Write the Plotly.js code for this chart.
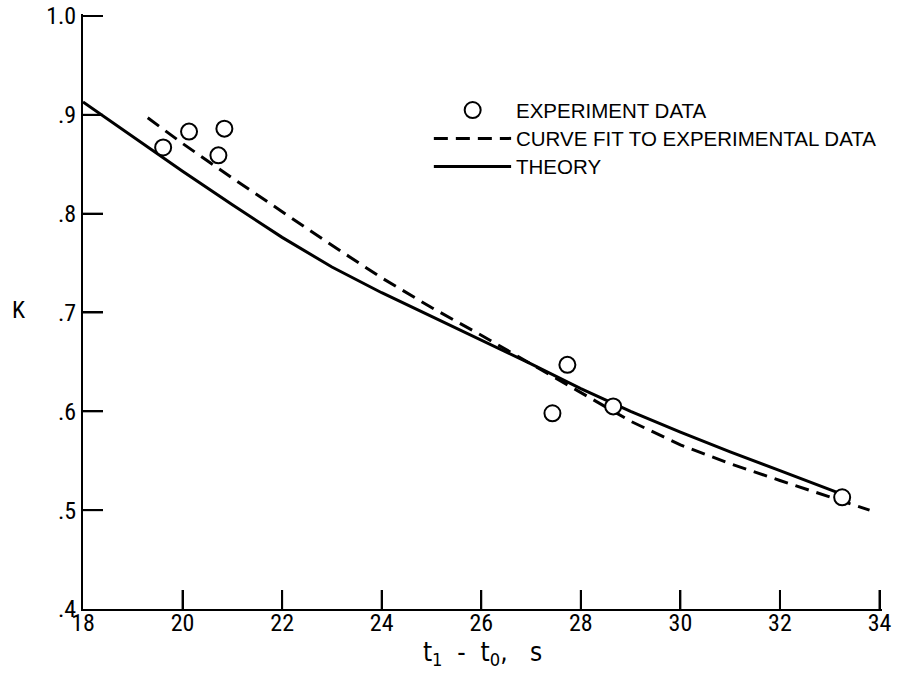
<!DOCTYPE html>
<html>
<head>
<meta charset="utf-8">
<script src="https://cdn.plot.ly/plotly-3.0.1.min.js"></script>
<style>html,body{margin:0;padding:0;background:#fff;}#chart{width:898px;height:674px;}</style>
</head>
<body>
<div id="chart"></div>
<script>
// Experiment data
const expX = [19.61, 20.13, 20.72, 20.84, 27.43, 27.73, 28.65, 33.25];
const expK = [0.867, 0.883, 0.859, 0.886, 0.598, 0.647, 0.605, 0.513];
// Curve fit to experimental data (dashed)
const fitX = [19.3, 20, 21, 22, 23, 24, 25, 26, 27, 28, 29, 30, 31, 32, 33, 33.8];
const fitK = [0.897, 0.871, 0.836, 0.802, 0.768, 0.735, 0.705, 0.677, 0.648, 0.619, 0.590, 0.566, 0.547, 0.530, 0.513, 0.500];
// Theory (solid)
const theoryX = [18, 19, 20, 21, 22, 23, 24, 25, 26, 27, 28, 29, 30, 31, 32, 33, 33.15];
const theoryK = [0.913, 0.878, 0.843, 0.809, 0.776, 0.746, 0.720, 0.696, 0.672, 0.648, 0.623, 0.600, 0.579, 0.559, 0.540, 0.521, 0.518];
// Axis ticks
const xTicks = [18, 20, 22, 24, 26, 28, 30, 32, 34];
const xTickText = ["18", "20", "22", "24", "26", "28", "30", "32", "34"];
const yTicks = [0.4, 0.5, 0.6, 0.7, 0.8, 0.9, 1.0];
const yTickText = [".4", ".5", ".6", ".7", ".8", ".9", "1.0"];
// Legend labels
const legendLabels = ["EXPERIMENT DATA", "CURVE FIT TO EXPERIMENTAL DATA", "THEORY"];

const cond = '"Roboto Condensed", "DejaVu Sans Condensed", sans-serif';
const sans = '"Liberation Sans", Arial, sans-serif';

const xRange = [18, 34.05], yRange = [0.4, 1.002];
const M = {l: 83, r: 16, t: 14, b: 65}, W = 898, H = 674;
const plotW = W - M.l - M.r, plotH = H - M.t - M.b;
// inward tick lengths (px) converted to axis units
const xTickLen = 19 * (yRange[1] - yRange[0]) / plotH;
const yTickLen = 20 * (xRange[1] - xRange[0]) / plotW;

// tick marks drawn through the axes' own scales
const tickX = [], tickY = [];
xTicks.slice(1).forEach(function (v) { tickX.push(v, v, null); tickY.push(yRange[0], yRange[0] + xTickLen, null); });
yTicks.slice(1).forEach(function (v) { tickX.push(xRange[0], xRange[0] + yTickLen, null); tickY.push(v, v, null); });

const traces = [
  {x: tickX, y: tickY, mode: 'lines', hoverinfo: 'skip', showlegend: false, connectgaps: false,
   line: {color: '#000', width: 2}},
  {x: theoryX, y: theoryK, mode: 'lines', name: legendLabels[2], line: {color: '#000', width: 3}},
  {x: fitX, y: fitK, mode: 'lines', name: legendLabels[1], line: {color: '#000', width: 3, dash: '14px,8px'}},
  {x: expX, y: expK, mode: 'markers', name: legendLabels[0],
   marker: {symbol: 'circle', size: 16, color: '#fff', line: {color: '#000', width: 2}}}
];

// Manual legend placement (paper coordinates)
const lx0 = 0.4391, lx1 = 0.5358, ltx = 0.5395, lmx = 0.4877;
const ly = [0.8386, 0.7909, 0.7437];

const layout = {
  width: W, height: H,
  margin: M,
  paper_bgcolor: '#fff', plot_bgcolor: '#fff',
  showlegend: false,
  xaxis: {range: xRange, tickmode: 'array', tickvals: xTicks, ticktext: xTickText,
    ticks: 'inside', ticklen: 19, tickwidth: 2, tickcolor: '#000',
    showline: true, linewidth: 2, linecolor: '#000', showgrid: false, zeroline: false,
    ticklabelstandoff: -9,
    tickfont: {family: cond, size: 24, color: '#000'},
    title: {text: 't<sub>1</sub>  -  t<sub>0</sub>,   s', font: {family: '"DejaVu Sans Condensed", sans-serif', size: 26, color: '#000'}, standoff: 4}},
  yaxis: {range: yRange, tickmode: 'array', tickvals: yTicks, ticktext: yTickText,
    ticks: 'inside', ticklen: 20, tickwidth: 2, tickcolor: '#000',
    showline: true, linewidth: 2, linecolor: '#000', showgrid: false, zeroline: false,
    tickfont: {family: cond, size: 24, color: '#000'}},
  shapes: [
    {type: 'circle', xref: 'paper', yref: 'paper', xsizemode: 'pixel', ysizemode: 'pixel',
     xanchor: lmx, yanchor: ly[0], x0: -8, x1: 8, y0: -8, y1: 8, line: {color: '#000', width: 2}, fillcolor: '#fff'},
    {type: 'line', xref: 'paper', yref: 'paper', x0: lx0, x1: lx1, y0: ly[1], y1: ly[1], line: {color: '#000', width: 3, dash: '14px,8px'}},
    {type: 'line', xref: 'paper', yref: 'paper', x0: lx0, x1: lx1, y0: ly[2], y1: ly[2], line: {color: '#000', width: 3}}
  ],
  annotations: [
    {text: legendLabels[0], xref: 'paper', yref: 'paper', x: ltx, y: ly[0], xanchor: 'left', yanchor: 'middle', showarrow: false, font: {family: sans, size: 20.5, color: '#000'}},
    {text: legendLabels[1], xref: 'paper', yref: 'paper', x: ltx, y: ly[1], xanchor: 'left', yanchor: 'middle', showarrow: false, font: {family: sans, size: 20.5, color: '#000'}},
    {text: legendLabels[2], xref: 'paper', yref: 'paper', x: ltx, y: ly[2], xanchor: 'left', yanchor: 'middle', showarrow: false, font: {family: sans, size: 20.5, color: '#000'}},
    {text: 'K', xref: 'paper', yref: 'paper', x: -0.0803, y: 0.5025, xanchor: 'center', yanchor: 'middle', showarrow: false, font: {family: cond, size: 24, color: '#000'}}
  ]
};

Plotly.newPlot('chart', traces, layout, {displayModeBar: false});
</script>
</body>
</html>
